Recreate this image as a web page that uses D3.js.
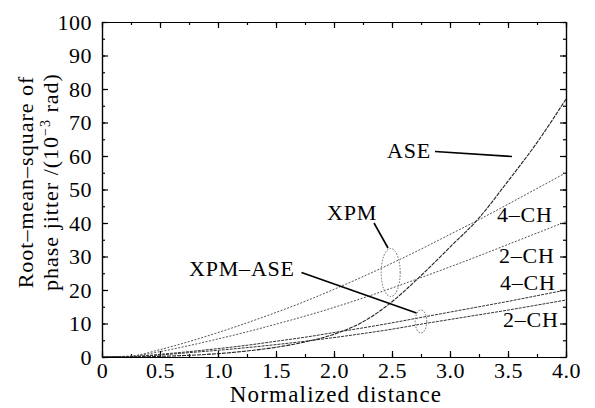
<!DOCTYPE html>
<html><head><meta charset="utf-8">
<script src="https://cdn.jsdelivr.net/npm/d3@7"></script>
<style>
html,body{margin:0;padding:0;background:#fff;}
text{font-family:"Liberation Serif","Times New Roman",serif;fill:#000;}
</style></head>
<body><svg id="c" width="595" height="408"></svg>
<script>
// ---- data ----
const xValues   = [0,0.25,0.5,0.75,1.0,1.25,1.5,1.75,2.0,2.25,2.5,2.75,3.0,3.25,3.5,3.75,4.0];
const aseVals   = [0,0.0,0.2,0.5,1.0,1.8,2.9,4.5,6.8,10.5,16.5,24.3,32.8,41.5,52.5,64.0,77.0];
const xpm4Vals  = [0,0.3,2.2,4.6,7.3,10.2,13.3,16.6,20.2,24.0,28.0,32.2,36.6,41.0,45.6,50.3,55.0];
const xpm2Vals  = [0,0.2,1.6,3.4,5.4,7.5,9.8,12.2,14.8,17.6,20.6,23.7,26.9,30.2,33.6,37.0,40.4];
const xa4Vals   = [0,0.1,0.8,1.6,2.5,3.5,4.7,5.9,7.3,8.7,10.2,11.8,13.4,15.0,16.6,18.3,20.0];
const xa2Vals   = [0,0.1,0.6,1.3,2.0,2.8,3.7,4.7,5.8,7.0,8.3,9.8,11.2,12.6,14.0,15.5,17.0];
const xTicks    = [0,0.5,1.0,1.5,2.0,2.5,3.0,3.5,4.0];
const xTickLbl  = ["0","0.5","1.0","1.5","2.0","2.5","3.0","3.5","4.0"];
const yTicks    = [0,10,20,30,40,50,60,70,80,90,100];
const xTitle    = "Normalized distance";
const yTitle    = ["Root\u2013mean\u2013square of", "phase jitter /(10", "\u22123", " rad)"];

const svg = d3.select("#c");
const L=102,R=566,T=22,B=357;
const x = d3.scaleLinear().domain([0,4]).range([L,R]);
const y = d3.scaleLinear().domain([0,100]).range([B,T]);

const FF = "Liberation Serif, Times New Roman, serif";
const font = 22;
function styleAxis(g){
  g.select(".domain").attr("stroke","#000").attr("stroke-width",1.2);
  g.selectAll(".tick line").attr("stroke","#000").attr("stroke-width",1.2);
  g.selectAll("text").attr("font-size",font).attr("font-family",FF)
    .attr("letter-spacing",0.5).attr("fill","#000");
}
const xMinor = d3.range(0,4.001,0.25);
const yMinor = d3.range(0,100.1,5);

// bottom
svg.append("g").attr("transform",`translate(0,${B})`)
  .call(d3.axisBottom(x).tickValues(xMinor).tickSize(-3).tickSizeOuter(0).tickFormat(""))
  .call(styleAxis);
svg.append("g").attr("transform",`translate(0,${B})`)
  .call(d3.axisBottom(x).tickValues(xTicks).tickSize(-6).tickSizeOuter(0).tickPadding(5)
        .tickFormat((d,i)=>xTickLbl[i]))
  .call(styleAxis);
// top
svg.append("g").attr("transform",`translate(0,${T})`)
  .call(d3.axisTop(x).tickValues(xMinor).tickSize(-3).tickSizeOuter(0).tickFormat(""))
  .call(styleAxis);
svg.append("g").attr("transform",`translate(0,${T})`)
  .call(d3.axisTop(x).tickValues(xTicks).tickSize(-6).tickSizeOuter(0).tickFormat(""))
  .call(styleAxis);
// left
svg.append("g").attr("transform",`translate(${L},0)`)
  .call(d3.axisLeft(y).tickValues(yMinor).tickSize(-3).tickSizeOuter(0).tickFormat(""))
  .call(styleAxis);
svg.append("g").attr("transform",`translate(${L},0)`)
  .call(d3.axisLeft(y).tickValues(yTicks).tickSize(-6).tickSizeOuter(0).tickPadding(10).tickFormat(d3.format("d")))
  .call(styleAxis);
// right
svg.append("g").attr("transform",`translate(${R},0)`)
  .call(d3.axisRight(y).tickValues(yMinor).tickSize(-3).tickSizeOuter(0).tickFormat(""))
  .call(styleAxis);
svg.append("g").attr("transform",`translate(${R},0)`)
  .call(d3.axisRight(y).tickValues(yTicks).tickSize(-6).tickSizeOuter(0).tickFormat(""))
  .call(styleAxis);

// curves
const line = d3.line().x((d,i)=>x(xValues[i])).y(d=>y(d)).curve(d3.curveMonotoneX);
const series = [
  {v:xpm4Vals, c:"#555", w:1, dash:"2,1.5"},
  {v:xpm2Vals, c:"#555", w:1, dash:"2,1.5"},
  {v:xa4Vals,  c:"#333", w:1, dash:"3,1"},
  {v:xa2Vals,  c:"#333", w:1, dash:"3,1"},
  {v:aseVals,  c:"#222", w:1.1, dash:"4,1"}
];
svg.append("clipPath").attr("id","pc").append("rect")
  .attr("x",L).attr("y",T).attr("width",R-L).attr("height",B-T);
svg.append("g").attr("clip-path","url(#pc)").selectAll("path").data(series).join("path")
  .attr("d",s=>line(s.v)).attr("fill","none").attr("stroke",s=>s.c)
  .attr("stroke-width",s=>s.w).attr("stroke-dasharray",s=>s.dash);

// annotations
const ann = svg.append("g");
function txt(s,xp,yp,anchor){
  return ann.append("text").attr("x",xp).attr("y",yp).attr("font-size",font)
    .attr("font-family",FF).attr("letter-spacing",0.8)
    .attr("text-anchor",anchor||"start").text(s);
}
function seg(x1,y1,x2,y2){
  ann.append("line").attr("x1",x1).attr("y1",y1).attr("x2",x2).attr("y2",y2)
    .attr("stroke","#000").attr("stroke-width",1.6);
}
function ell(cx,cy,rx,ry){
  ann.append("ellipse").attr("cx",cx).attr("cy",cy).attr("rx",rx).attr("ry",ry)
    .attr("fill","none").attr("stroke","#666").attr("stroke-width",1).attr("stroke-dasharray","1.5,1.5");
}
txt("ASE",387,158);
seg(435,151.5,512,156.5);
txt("XPM",327,220);
seg(374,223,388,248);
ell(390.7,272.5,9.5,24);
txt("XPM\u2013ASE",189,276);
seg(301.5,272.5,416.5,313);
ell(421,321.5,5.8,11.5);
txt("4\u2013CH",497,222);
txt("2\u2013CH",499,263);
txt("4\u2013CH",500,290);
txt("2\u2013CH",503,327);

// axis titles
svg.append("text").attr("x",336).attr("y",402).attr("text-anchor","middle")
  .attr("font-size",23).attr("font-family",FF).attr("letter-spacing",1.2).text(xTitle);
const yt = svg.append("text").attr("transform",`translate(33,182) rotate(-90)`)
  .attr("text-anchor","middle").attr("font-size",font).attr("font-family",FF).attr("letter-spacing",1);
yt.append("tspan").attr("x",0).attr("dy",0).text(yTitle[0]);
yt.append("tspan").attr("x",0).attr("dy",25).text(yTitle[1]);
yt.append("tspan").attr("dy",-8).attr("font-size",14).text(yTitle[2]);
yt.append("tspan").attr("dy",8).text(yTitle[3]);
</script></body></html>
